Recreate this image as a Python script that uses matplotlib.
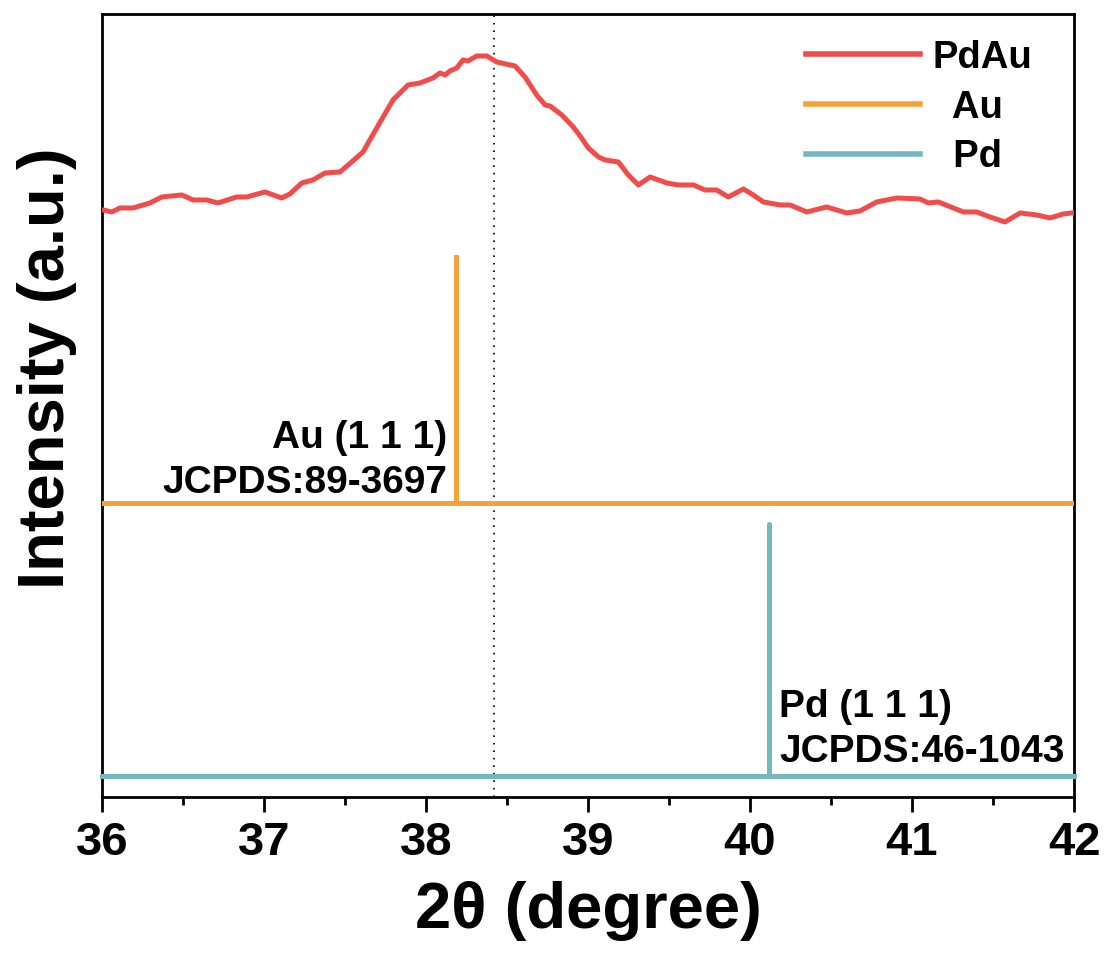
import matplotlib
matplotlib.use("Agg")
import matplotlib.pyplot as plt
from matplotlib.ticker import MultipleLocator

plt.rcParams['font.family'] = ['Liberation Sans', 'DejaVu Sans']
plt.rcParams['font.weight'] = 'bold'

# PdAu measured pattern (arbitrary intensity units)
pdau_x = [36.0, 36.008, 36.06, 36.111, 36.191, 36.296, 36.369, 36.492, 36.562, 36.646, 36.716,
          36.831, 36.893, 37.006, 37.109, 37.160, 37.233, 37.302, 37.377, 37.469, 37.541,
          37.611, 37.696, 37.796, 37.889, 37.963, 38.043, 38.086, 38.117, 38.148, 38.190,
          38.228, 38.259, 38.313, 38.375, 38.436, 38.519, 38.549, 38.611, 38.683, 38.735,
          38.765, 38.838, 38.909, 38.951, 39.002, 39.064, 39.105, 39.187, 39.249, 39.311,
          39.383, 39.486, 39.557, 39.650, 39.722, 39.794, 39.866, 39.959, 40.020, 40.082,
          40.185, 40.247, 40.350, 40.473, 40.597, 40.679, 40.782, 40.906, 41.049, 41.101,
          41.162, 41.317, 41.399, 41.481, 41.574, 41.667, 41.770, 41.852, 41.934, 41.986, 42.0]
pdau_y = [587, 587, 585, 589, 589, 594, 600, 602, 597, 597, 594,
          600, 600, 605, 599, 603, 614, 617, 624, 625, 635,
          645, 669, 697, 712, 714, 719, 724, 722, 726, 729,
          737, 736, 741, 741, 735, 732, 731, 720, 702, 692,
          691, 682, 670, 661, 649, 640, 637, 635, 622, 612,
          620, 614, 612, 612, 607, 607, 600, 608, 602, 595,
          592, 592, 585, 590, 584, 586, 595, 599, 598, 594,
          595, 585, 585, 580, 575, 584, 582, 579, 583, 584, 584]

# Reference patterns
au_peak_pos = 38.185
au_offset = 294
au_peak_height = 246
pd_peak_pos = 40.12
pd_offset = 21
pd_peak_height = 252

dotted_pos = 38.42
x_range = [36, 42]
x_ticks = [36, 37, 38, 39, 40, 41, 42]

c_pdau = '#F24B4B'
c_au = '#F6A23A'
c_pd = '#74B7BF'

fig = plt.figure(figsize=(11.10, 9.56), dpi=100)
ax = fig.add_axes([0.0919, 0.1663, 0.8757, 0.8191])

ax.plot(pdau_x, pdau_y, color=c_pdau, lw=3.6, label='PdAu', zorder=3)
ax.plot(x_range, [au_offset, au_offset], color=c_au, lw=3.6, label='  Au', zorder=3)
ax.plot([au_peak_pos, au_peak_pos], [au_offset, au_offset + au_peak_height],
        color=c_au, lw=3.6, zorder=3)
ax.plot(x_range, [pd_offset, pd_offset], color=c_pd, lw=3.6, label='  Pd', zorder=3,
        clip_on=False)
ax.plot([pd_peak_pos, pd_peak_pos], [pd_offset, pd_offset + pd_peak_height],
        color=c_pd, lw=3.6, zorder=3, solid_capstyle='round')

ax.axvline(dotted_pos, color='black', lw=1.2, ls=(0, (1, 3.5)), zorder=1)

ax.text(au_peak_pos - 0.055, au_offset + 2, 'Au (1 1 1)\nJCPDS:89-3697',
        ha='right', va='bottom', fontsize=28, fontweight='bold', linespacing=1.32)
ax.text(pd_peak_pos + 0.06, pd_offset + 6, 'Pd (1 1 1)\nJCPDS:46-1043',
        ha='left', va='bottom', fontsize=28, fontweight='bold', linespacing=1.32)

ax.set_xlim(x_range)
ax.set_ylim(0, 783)
ax.set_xticks(x_ticks)
ax.xaxis.set_minor_locator(MultipleLocator(0.5))
ax.set_yticks([])
ax.tick_params(axis='x', which='major', direction='out', length=11, width=2,
               labelsize=34, pad=6)
ax.tick_params(axis='x', which='minor', direction='out', length=6, width=2)
for lbl in ax.get_xticklabels():
    lbl.set_fontweight('bold')
for s in ax.spines.values():
    s.set_linewidth(2)

ax.set_xlabel('2θ (degree)', fontsize=47, fontweight='bold', labelpad=12)
ax.set_ylabel('Intensity (a.u.)', fontsize=47, fontweight='bold')
ax.yaxis.set_label_coords(-0.026, 0.548)

leg = ax.legend(loc='upper right', frameon=False, fontsize=27.5, handlelength=2.97,
                handletextpad=0.34, labelspacing=0.36, borderaxespad=0.0,
                borderpad=0.0, bbox_to_anchor=(0.957, 0.967))
for line in leg.get_lines():
    line.set_linewidth(4)

fig.savefig('out.png', dpi=100)
